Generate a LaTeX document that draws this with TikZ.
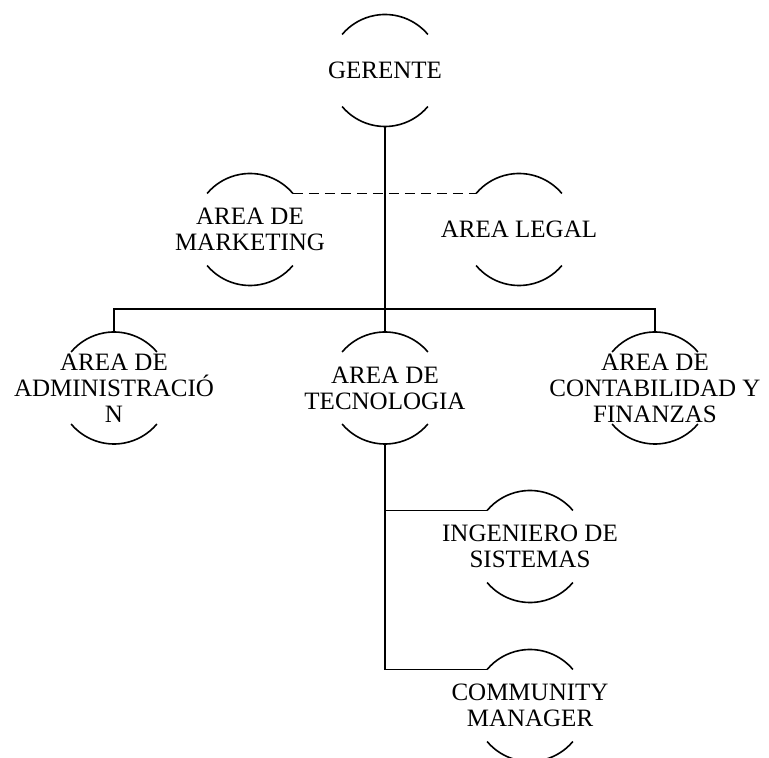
\documentclass[tikz,border=0pt]{standalone}
\usepackage{fontspec}
\setmainfont{Liberation Serif}
\usepackage{tikz}
\tikzstyle{unit} = [circle, minimum size = 112pt, inner sep = 0pt, outer sep = 0pt]
\tikzstyle{every label} = [font = \fontsize{25}{26}\selectfont, align = center, inner sep = 0pt]

\begin{document}
\begin{tikzpicture}[x = 1pt, y = 1pt, line width = 1.6pt]
	\useasboundingbox (0, 0) rectangle (769, 758) ;

	\node[unit, label = {center:GERENTE}] (G) at (385, 687.5) {} ;
	\node[unit, label = {center:AREA DE\\MARKETING}] (M) at (250, 528.5) {} ;
	\node[unit, label = {center:AREA LEGAL}] (L) at (519, 528.5) {} ;
	
	\node[unit, label = {center:AREA DE\\ADMINISTRACIÓ\\N}] (A) at (114, 370) {} ;
	\node[unit, label = {center:AREA DE\\TECNOLOGIA}] (T) at (385, 370) {} ;
	\node[unit, label = {center:AREA DE\\CONTABILIDAD Y\\FINANZAS}] (C) at (655, 370) {} ;
	
	\node[unit, label = {center:INGENIERO DE\\SISTEMAS}] (I) at (530, 211.5) {} ;
	\node[unit, label = {center:COMMUNITY\\MANAGER}] (CM) at (530, 52.5) {} ;
	
	\coordinate (bus) at (385, 449) ;
	
	\foreach \p in {G, M, L, A, T, C, I, CM}
	{
		\draw (\p.40) arc[start angle = 40, end angle = 140, radius = 56pt] ;
		\draw (\p.220) arc[start angle = 220, end angle = 320, radius = 56pt] ;
	}
	
	\draw[dash pattern = on 10pt off 6pt] (M.40) -- (L.140) ;
	\draw (G.south) -- (T.north) ;
	\draw (A.north) |- (bus) -| (C.north) ;
	
	\draw (T.south) |- (I.140) ;
	\draw (T.south) |- (CM.140) ;
	
\end{tikzpicture}
\end{document}
